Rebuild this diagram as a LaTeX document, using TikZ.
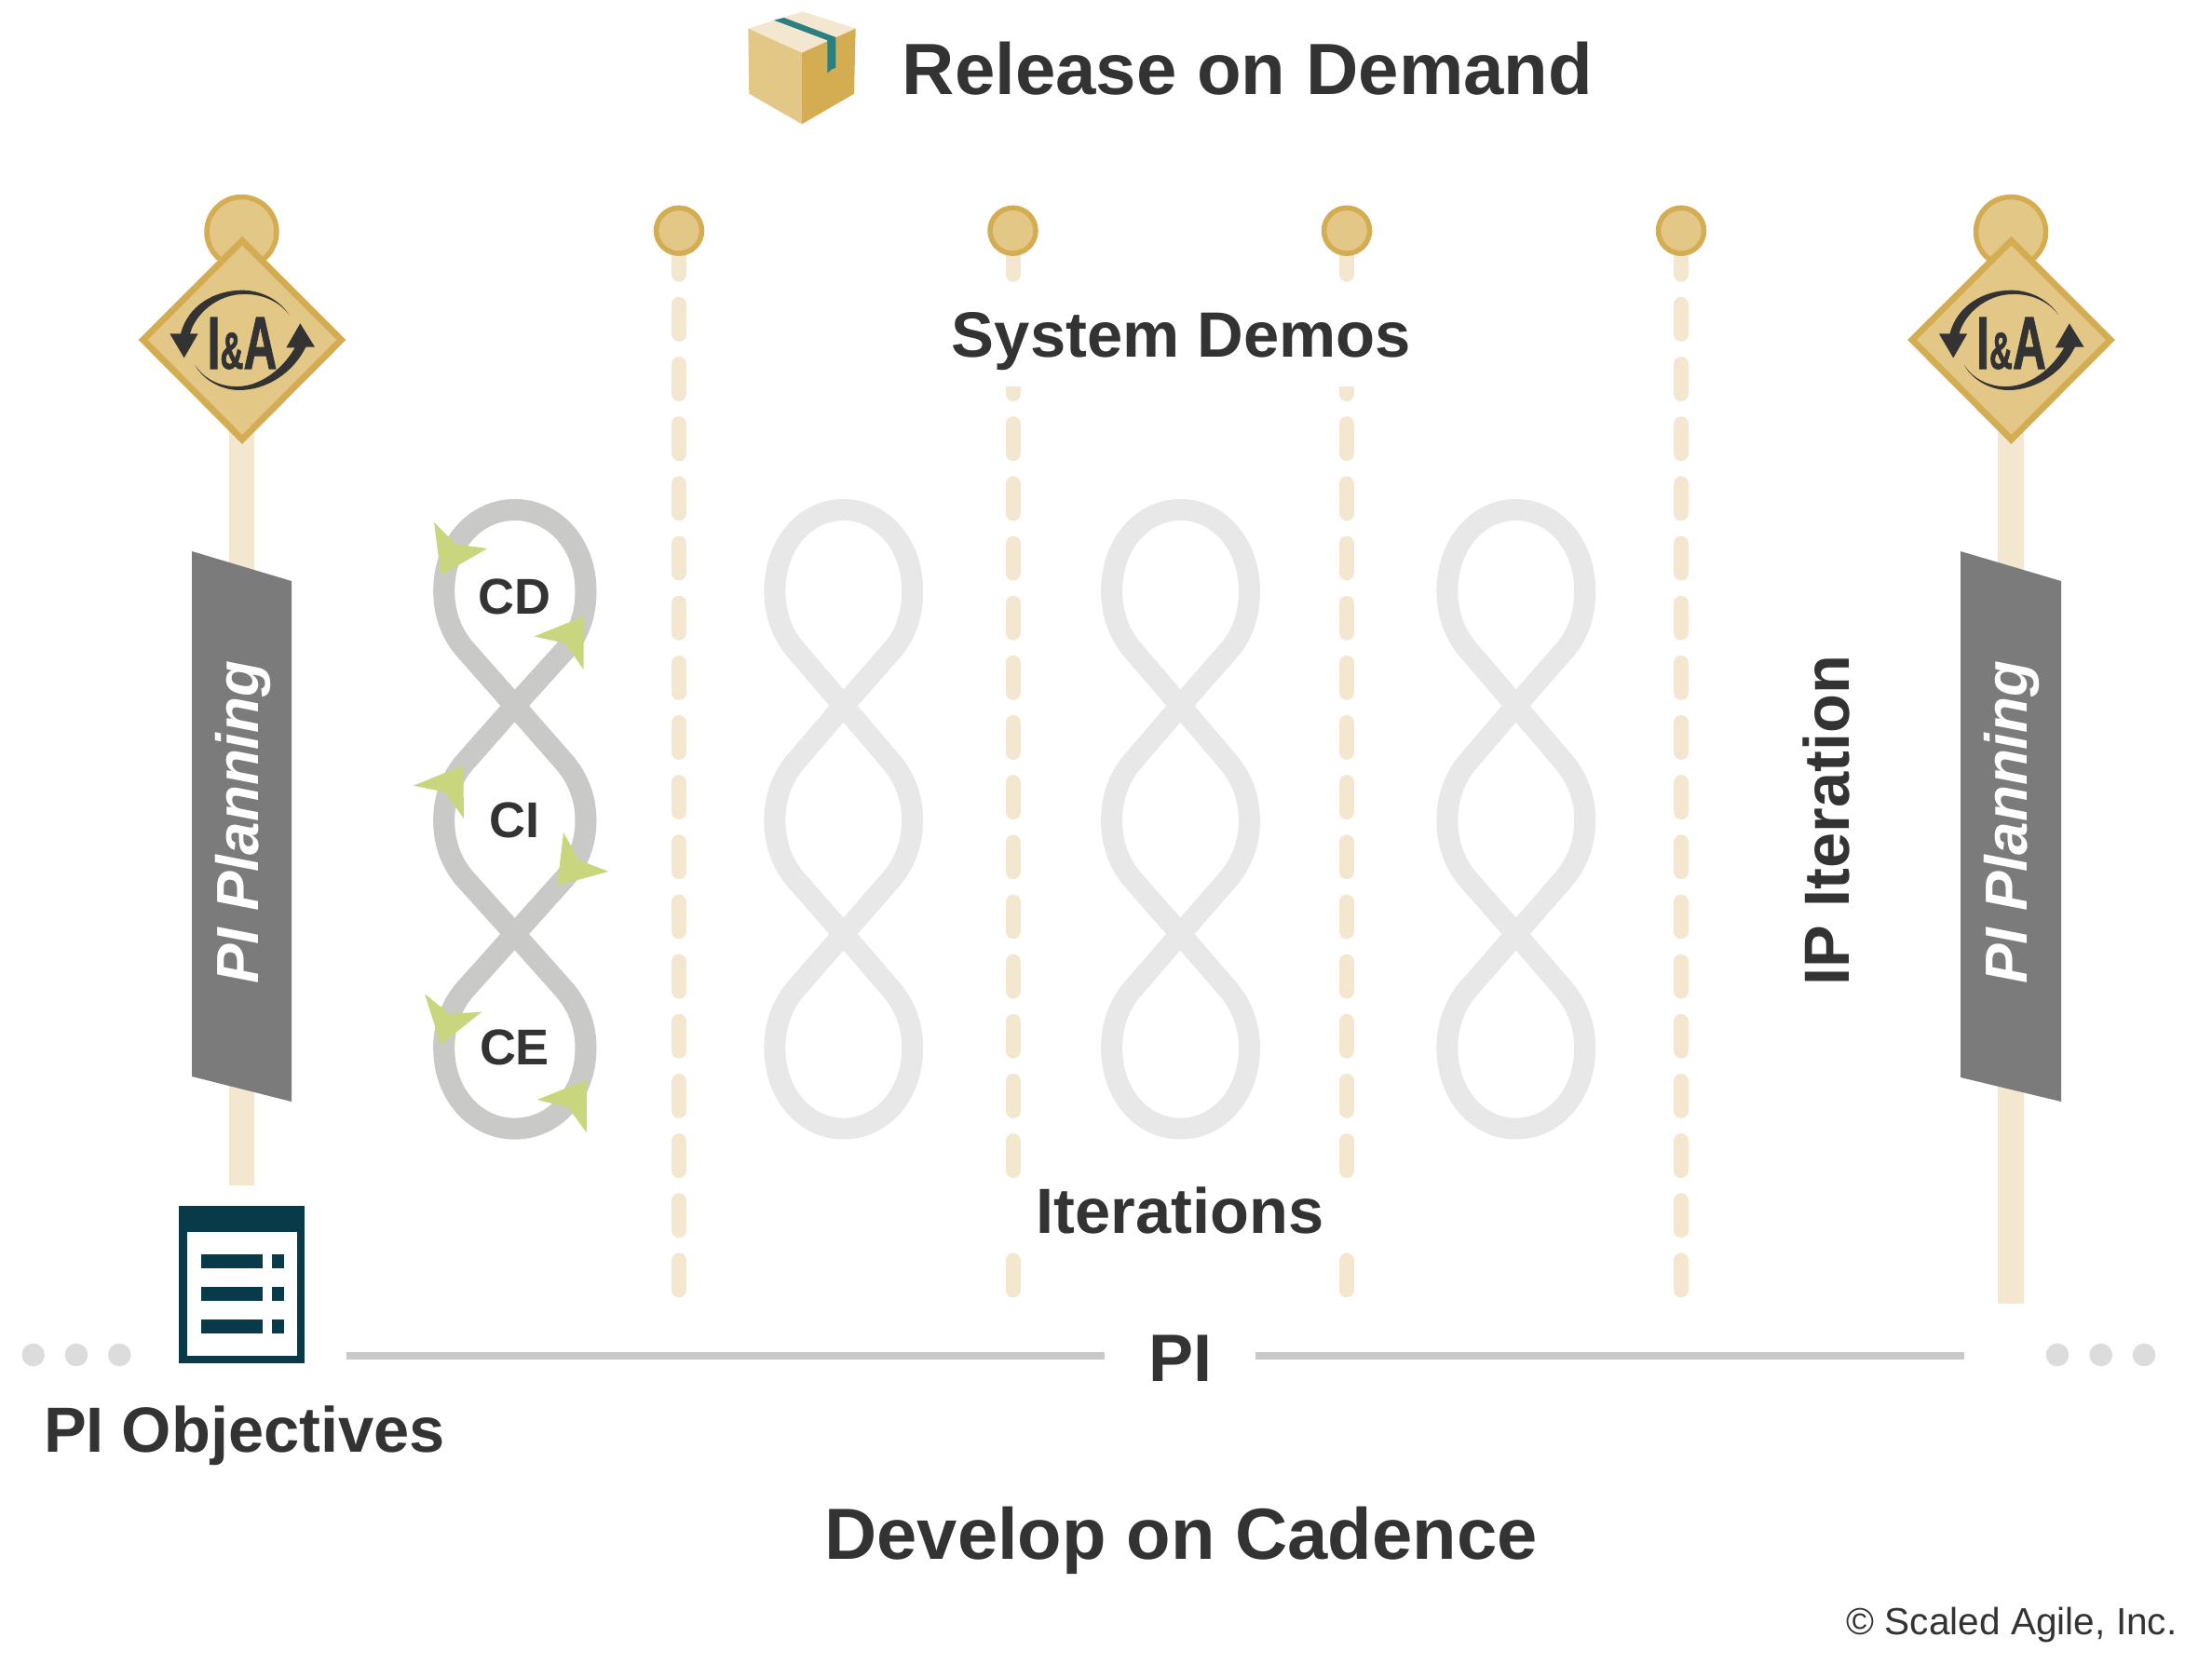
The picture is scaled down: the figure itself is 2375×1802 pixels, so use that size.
\documentclass[tikz,border=0pt]{standalone}
\usepackage{fontspec}
\setmainfont{Liberation Sans}
\newfontfamily\iafont[FakeBold=1.5]{Liberation Sans Bold}
\definecolor{ink}{HTML}{333333}
\definecolor{gold}{HTML}{D4AD52}
\definecolor{sand}{HTML}{E3C786}
\definecolor{cream}{HTML}{F3E8CF}
\definecolor{banner}{HTML}{7B7B7B}
\definecolor{loopdark}{HTML}{C9C9C7}
\definecolor{looplight}{HTML}{E8E8E8}
\definecolor{leaf}{HTML}{C9D67E}
\definecolor{navy}{HTML}{083A4A}
\definecolor{teal}{HTML}{2A8080}
\definecolor{dotgrey}{HTML}{DCDCDC}
\tikzset{
  lab/.style={anchor=base,inner sep=0pt,text=ink,font=\bfseries\fontsize{#1}{#1}\selectfont},
  bannertext/.style={anchor=base,inner sep=0pt,rotate=90,text=white,font=\bfseries\itshape\fontsize{31.9}{31.9}\selectfont},
  knob/.style={draw=gold,fill=sand,line width=2.75pt},
  dashline/.style={draw=cream,line width=8pt,line cap=round,dash pattern=on 16pt off 16.08pt},
  post/.style={fill=cream},
  figeight/.style={line width=11.5pt,line join=round},
  greendot/.style={fill=dotgrey},
  pibar/.style={draw=loopdark,line width=4pt}
}
\newcommand{\figpath}{(338,515) -- (505,380) .. controls (545,345) and (567,300) .. (567,245) .. controls (567,135) and (465,54) .. (338,54) .. controls (211,54) and (110,135) .. (110,245) .. controls (110,300) and (135,345) .. (175,380) -- (338,515) -- (500,650) .. controls (540,685) and (567,730) .. (567,785) .. controls (567,840) and (540,885) .. (500,920) -- (338,1052) -- (175,1185) .. controls (135,1220) and (110,1265) .. (110,1320) .. controls (110,1430) and (211,1510) .. (338,1510) .. controls (465,1510) and (567,1430) .. (567,1320) .. controls (567,1265) and (540,1220) .. (500,1185) -- (338,1052) -- (175,920) .. controls (135,885) and (110,840) .. (110,785) .. controls (110,730) and (135,685) .. (175,650) -- cycle}
\newcommand{\iasign}[2]{%
  \begin{scope}[shift={(#1,0)}]
    \draw[knob] (259.5,249) circle[radius=37.5];
    \path[knob,line width=3.5pt,miter limit=10] (260,258.5) -- (366.5,365) -- (260,472) -- (153.5,365) -- cycle;
    \node[inner sep=0pt,anchor=base,text=ink] (ia#2) at (260,396) {\scalebox{.62}[1]{\iafont\fontsize{40}{40}\selectfont I\fontsize{28}{28}\selectfont\&\fontsize{40}{40}\selectfont A}};
    \begin{scope}[shift={(120,190)},scale=1/3]
      \fill[ink] (572,445) .. controls (540,395) and (480,365) .. (420,365) .. controls (330,365) and (245,415) .. (222,505) -- (187,505) -- (233,583) -- (278,505) -- (252,505) .. controls (270,440) and (340,380) .. (420,378) .. controls (480,375) and (540,400) .. (572,445) -- cycle;
      \fill[ink] (268,605) .. controls (290,650) and (350,687) .. (410,687) .. controls (500,687) and (585,630) .. (625,548) -- (654,548) -- (607,472) -- (562,550) -- (590,550) .. controls (550,620) and (480,672) .. (410,675) .. controls (350,678) and (295,650) .. (268,605) -- cycle;
    \end{scope}
  \end{scope}}
\begin{document}
\begin{tikzpicture}[x=0.5pt,y=-0.5pt]
\useasboundingbox (0,0) rectangle (2375,1802);
% posts
\fill[post] (246,440) rectangle (273,1273);
\fill[post] (2145,440) rectangle (2173,1400);
% dashed iteration lines
\foreach \x in {729,1087.5,1446,1805}{
  \draw[dashline] (\x,262.7) -- (\x,1390);
  \draw[knob] (\x,247.7) circle[radius=24.5];
}
\fill[white] (1070,303.5) rectangle (1100,414.7);
\fill[white] (1430,303.5) rectangle (1460,414.7);
\fill[white] (1070,1266.5) rectangle (1100,1345);
\fill[white] (1430,1266.5) rectangle (1460,1345);
% banners
\fill[banner] (206,592) -- (313,624) -- (313,1183) -- (206,1156) -- cycle;
\fill[banner] (2105,592) -- (2213,624) -- (2213,1183) -- (2105,1157) -- cycle;
\node[bannertext] (planL) at (277.5,883) {PI Planning};
\node[bannertext] (planR) at (2176.5,883) {PI Planning};
% I&A signs
\iasign{0}{L}
\iasign{1899.5}{R}
% light loops
\foreach \dx in {356.3,718,1078.3}{
  \begin{scope}[shift={(440+\dx,522.8)},xscale=.3235,yscale=.4565]
    \draw[figeight,looplight] \figpath;
  \end{scope}
}
% dark loop and arrows
\begin{scope}[shift={(440,522.8)},xscale=1/3,yscale=.4565]
  \draw[figeight,loopdark] \figpath;
  \fill[leaf] (78,83) -- (148,135) -- (250,145) -- (100,208) -- cycle;
  \fill[leaf] (560,305) -- (400,352) -- (500,368) -- (560,430) -- cycle;
  \fill[leaf] (172,655) -- (12,703) -- (112,718) -- (174,780) -- cycle;
  \fill[leaf] (495,813) -- (545,878) -- (640,905) -- (475,938) -- cycle;
  \fill[leaf] (48,1193) -- (128,1240) -- (232,1235) -- (100,1312) -- cycle;
  \fill[leaf] (570,1395) -- (410,1442) -- (510,1460) -- (570,1520) -- cycle;
\end{scope}
\node[lab=27] (cd) at (552.5,659.5) {CD};
\node[lab=27] (ci) at (552.5,899) {CI};
\node[lab=27] (ce) at (552.5,1143) {CE};
% box
\fill[cream] (861.7,12.3) -- (918.7,30.7) -- (861,56.7) -- (803.3,30.7) -- cycle;
\fill[sand] (803.3,30.7) -- (861,56.7) -- (861,133.3) -- (804.3,100.7) -- cycle;
\fill[gold] (861,56.7) -- (918.7,30.7) -- (917,100.7) -- (861,133.3) -- cycle;
\fill[teal] (831,21.7) -- (841.7,19) -- (897.3,40) -- (897.3,72.5) -- (893,74.5) -- (888.3,78.3) -- (888.3,43.3) -- cycle;
% icon
\fill[navy] (192,1295) rectangle (327,1464);
\fill[white] (200.7,1323) rectangle (319.3,1455.7);
\foreach \y in {1347.3,1382.3,1417.3}{
  \fill[navy] (216,\y) rectangle ++(66,14.4);
  \fill[navy] (291.7,\y) rectangle ++(13.3,14.4);
}
% dots
\foreach \x in {35.7,82,128.3,2209,2255.7,2302}
  \fill[greendot] (\x,1455) circle[radius=12.3];
% PI
\node[lab=36] (pi) at (1267.5,1483) {PI};
\coordinate (barLa) at (372,1456);
\coordinate (barLb) at (1186,1456);
\coordinate (barRa) at (1348,1456);
\coordinate (barRb) at (2109,1456);
\draw[pibar] (barLa) -- (barLb);
\draw[pibar] (barRa) -- (barRb);
% labels
\node[lab=39] (rel) at (1339.5,102) {Release on Demand};
\node[lab=34.4] (sys) at (1268.5,383.5) {System Demos};
\node[lab=34.3] (iter) at (1267,1324) {Iterations};
\node[lab=34.3] (ipi) at (1985,881) [rotate=90] {IP Iteration};
\node[lab=34.3] (obj) at (262.5,1559) {PI Objectives};
\node[lab=38.9] (dev) at (1268,1674) {Develop on Cadence};
\node[anchor=base east,inner sep=0pt,text=ink,font=\fontsize{20.3}{20.3}\selectfont] (copy) at (2338,1755) {© Scaled Agile, Inc.};
\end{tikzpicture}
\end{document}
